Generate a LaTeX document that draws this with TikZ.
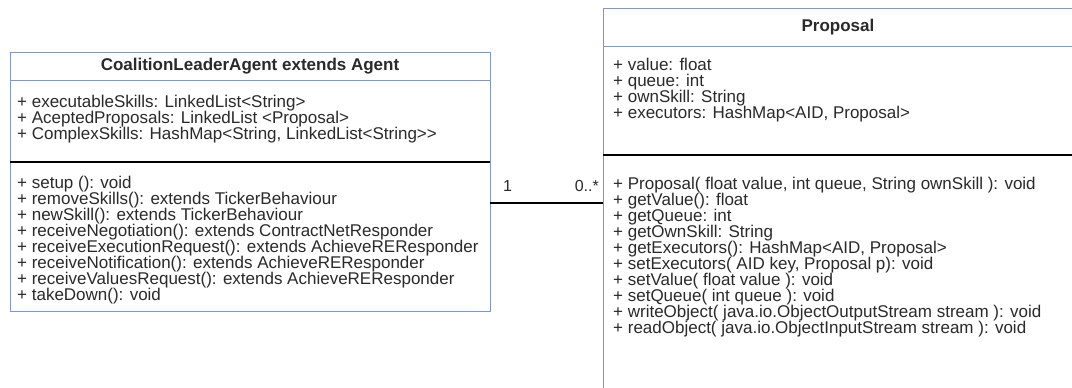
\documentclass[tikz,border=0pt]{standalone}
\usepackage{fontspec}
\setmainfont{Liberation Sans}
\definecolor{umlblue}{HTML}{7E98C8}
\definecolor{txt}{HTML}{2A2A2A}
\begin{document}
\begin{tikzpicture}[x=1pt,y=-1pt,
  classbox/.style={draw=umlblue, line width=1pt, fill=white, inner sep=0, outer sep=0},
  divider/.style={draw=umlblue, line width=1pt},
  sepline/.style={draw=black, line width=1.8pt},
  ctitle/.style={font=\fontsize{17}{20}\selectfont\bfseries, text=txt, inner sep=0},
  row/.style={anchor=west, font=\fontsize{17}{20}\selectfont, text=txt, inner sep=0,
              text height=12pt, text depth=3.5pt},
  assoc/.style={draw=black, line width=1.8pt},
  mult/.style={font=\fontsize{16}{19}\selectfont, text=txt, inner sep=0}]
\useasboundingbox (0,0) rectangle (1072,388);

% class boxes
\node[classbox, minimum width=480pt, minimum height=259pt] (leader) at (250,181.5) {};
\node[classbox, minimum width=471pt, minimum height=392pt] (proposal) at (838.5,204) {};

% CoalitionLeaderAgent
\node[ctitle] (ltitle) at (250,66) {CoalitionLeaderAgent extends Agent};
\draw[divider] (leader.west |- 0,80) -- (leader.east |- 0,80);
\node[row] (la1) at (17,103) {+ executableSkills: LinkedList<String>};
\node[row] (la2) at (17,119) {+ AceptedProposals: LinkedList <Proposal>};
\node[row] (la3) at (17,135) {+ ComplexSkills: HashMap<String, LinkedList<String>{}>};
\draw[sepline] (leader.west |- 0,162) -- (leader.east |- 0,162);
\node[row] (lm1) at (17,184) {+ setup (): void};
\node[row] (lm2) at (17,200) {+ removeSkills(): extends TickerBehaviour};
\node[row] (lm3) at (17,216) {+ newSkill(): extends TickerBehaviour};
\node[row] (lm4) at (17,232) {+ receiveNegotiation(): extends ContractNetResponder};
\node[row] (lm5) at (17,248) {+ receiveExecutionRequest(): extends AchieveREResponder};
\node[row] (lm6) at (17,264) {+ receiveNotification(): extends AchieveREResponder};
\node[row] (lm7) at (17,280) {+ receiveValuesRequest(): extends AchieveREResponder};
\node[row] (lm8) at (17,296) {+ takeDown(): void};

% Proposal
\node[ctitle] (ptitle) at (838,27) {Proposal};
\draw[divider] (proposal.west |- 0,46) -- (proposal.east |- 0,46);
\node[row] (pa1) at (613,66) {+ value: float};
\node[row] (pa2) at (613,82) {+ queue: int};
\node[row] (pa3) at (613,98) {+ ownSkill: String};
\node[row] (pa4) at (613,114) {+ executors: HashMap<AID, Proposal>};
\draw[sepline] (proposal.west |- 0,155) -- (proposal.east |- 0,155);
\node[row] (pm1) at (613,185) {+ Proposal( float value, int queue, String ownSkill ): void};
\node[row] (pm2) at (613,201) {+ getValue(): float};
\node[row] (pm3) at (613,217) {+ getQueue: int};
\node[row] (pm4) at (613,233) {+ getOwnSkill: String};
\node[row] (pm5) at (613,249) {+ getExecutors(): HashMap<AID, Proposal>};
\node[row] (pm6) at (613,265) {+ setExecutors( AID key, Proposal p): void};
\node[row] (pm7) at (613,281) {+ setValue( float value ): void};
\node[row] (pm8) at (613,297) {+ setQueue( int queue ): void};
\node[row] (pm9) at (613,313) {+ writeObject( java.io.ObjectOutputStream stream ): void};
\node[row] (pm10) at (613,329) {+ readObject( java.io.ObjectInputStream stream ): void};

% association with multiplicities
\draw[assoc] (leader.east |- 0,203) -- (proposal.west |- 0,203);
\node[mult, anchor=west] (m1) at (503,186) {1};
\node[mult, anchor=east] (m2) at (599,186) {0..*};
\end{tikzpicture}
\end{document}
